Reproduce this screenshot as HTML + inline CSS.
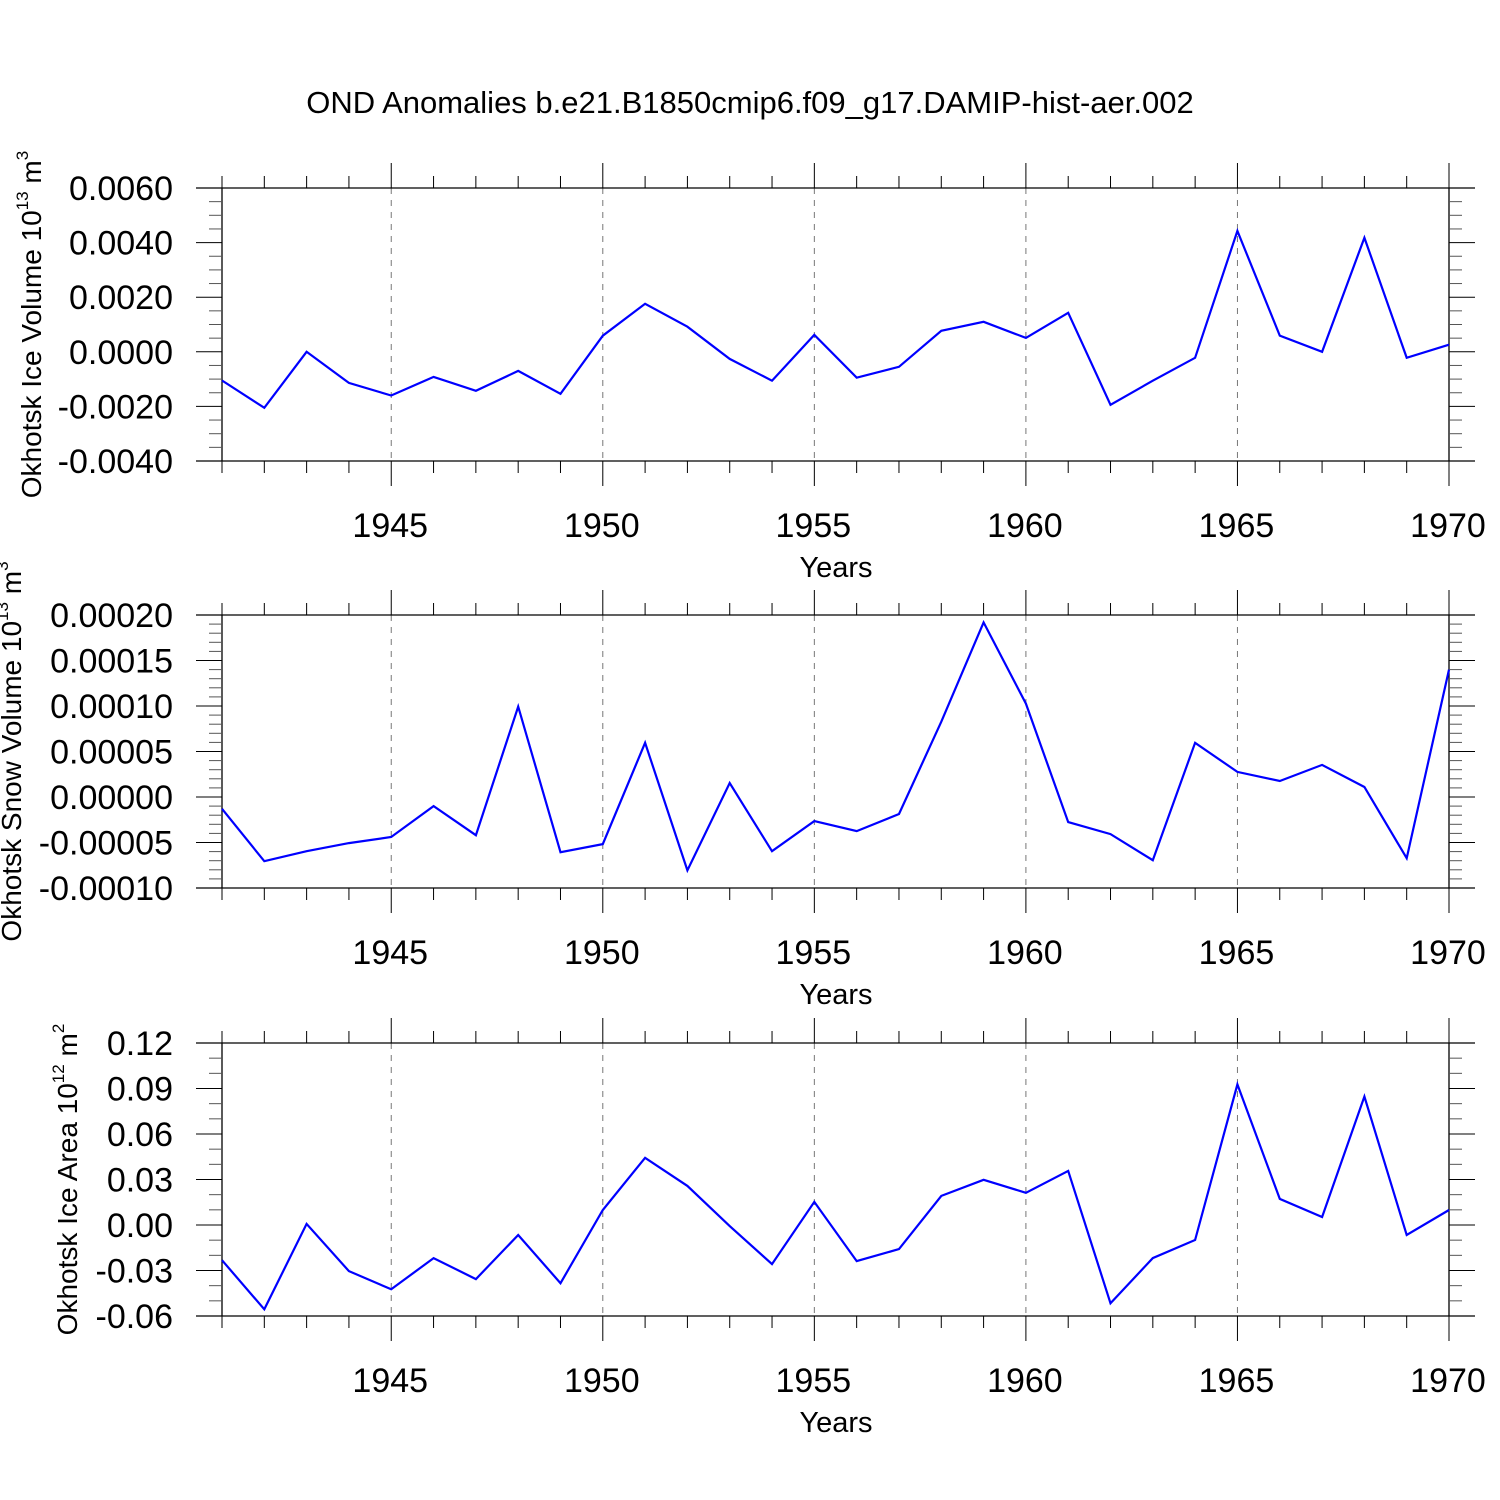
<!DOCTYPE html>
<html><head><meta charset="utf-8"><style>
body{margin:0;background:#fff}
svg{display:block;font-family:"Liberation Sans",Arial,sans-serif}
</style></head><body>
<svg id="c" width="1500" height="1500" viewBox="0 0 1500 1500">
<text x="750" y="113" font-size="31" text-anchor="middle">OND Anomalies b.e21.B1850cmip6.f09_g17.DAMIP-hist-aer.002</text>
</svg>
<script>
const years=[1941,1942,1943,1944,1945,1946,1947,1948,1949,1950,1951,1952,1953,1954,1955,1956,1957,1958,1959,1960,1961,1962,1963,1964,1965,1966,1967,1968,1969,1970];
const iceVolume=[-1.05,-2.05,0,-1.14,-1.6,-0.92,-1.43,-0.7,-1.54,0.59,1.76,0.92,-0.26,-1.06,0.62,-0.95,-0.55,0.77,1.1,0.51,1.43,-1.94,-1.06,-0.22,4.43,0.59,0,4.18,-0.22,0.26].map(v=>v*0.001);
const snowVolume=[-1.3,-7.06,-5.96,-5.07,-4.4,-1.0,-4.2,9.93,-6.07,-5.18,5.96,-8.05,1.54,-5.96,-2.65,-3.75,-1.87,8.27,19.19,10.26,-2.76,-4.08,-6.95,5.96,2.76,1.76,3.53,1.1,-6.73,14.0].map(v=>v*0.00001);
const iceArea=[-0.0232,-0.0556,0.0007,-0.0304,-0.0424,-0.0218,-0.0357,-0.0066,-0.0384,0.0099,0.0443,0.0258,-0.0007,-0.0258,0.0152,-0.0238,-0.0159,0.0192,0.0298,0.0212,0.0357,-0.0516,-0.0218,-0.0099,0.0927,0.0172,0.0053,0.0847,-0.0066,0.0099];
const xTickLabels=[1945,1950,1955,1960,1965,1970];
const ticks1=["0.0060","0.0040","0.0020","0.0000","-0.0020","-0.0040"];
const ticks2=["0.00020","0.00015","0.00010","0.00005","0.00000","-0.00005","-0.00010"];
const ticks3=["0.12","0.09","0.06","0.03","0.00","-0.03","-0.06"];
const NS="http://www.w3.org/2000/svg";
const svg=document.getElementById('c');
function el(t,a,p){const e=document.createElementNS(NS,t);for(const k in a)e.setAttribute(k,a[k]);(p||svg).appendChild(e);return e;}
const X0=222,X1=1449,Y0=1941,Y1=1970;
function xs(y){return X0+(y-Y0)*(X1-X0)/(Y1-Y0);}
function panel(cfg){
  const g=el('g',{});
  
  
  const top=cfg.top,bot=cfg.top+273;
  const ys=v=>top+(cfg.max-v)*(bot-top)/(cfg.max-cfg.min);
  for(const yr of [1945,1950,1955,1960,1965]){
    const l=el('line',{x1:xs(yr),x2:xs(yr),y1:top,y2:bot,stroke:'#777','stroke-width':1,'stroke-dasharray':'6,6'},g);
    
    
  }
  el('line',{x1:196,x2:1475,y1:top,y2:top,stroke:'#000','stroke-width':1.3},g);
  el('line',{x1:196,x2:1475,y1:bot,y2:bot,stroke:'#000','stroke-width':1.3},g);
  el('line',{x1:X0,x2:X0,y1:top,y2:bot,stroke:'#000','stroke-width':1.3},g);
  el('line',{x1:X1,x2:X1,y1:top,y2:bot,stroke:'#000','stroke-width':1.3},g);
  for(const yr of years){
    const major=yr%5===0, len=major?25:12, x=xs(yr);
    el('line',{x1:x,x2:x,y1:top,y2:top-len,stroke:'#000','stroke-width':1},g);
    el('line',{x1:x,x2:x,y1:bot,y2:bot+len,stroke:'#000','stroke-width':1},g);
  }
  for(const yr of xTickLabels){
    const t=el('text',{x:xs(yr)-1,y:bot+76,'font-size':34,'text-anchor':'middle'},g);
    t.textContent=yr;
    
    
  }
  const yt=el('text',{x:836,y:bot+116,'font-size':29,'text-anchor':'middle'},g);
  yt.textContent='Years';
  
  
  const n=cfg.labels.length-1, step=(cfg.max-cfg.min)/n;
  for(let i=0;i<=n;i++){
    const v=cfg.max-i*step,y=ys(v);
    el('line',{x1:196,x2:X0,y1:y,y2:y,stroke:'#000','stroke-width':1},g);
    el('line',{x1:X1,x2:1475,y1:y,y2:y,stroke:'#000','stroke-width':1},g);
    const t=el('text',{x:173,y:y+12,'font-size':34,'text-anchor':'end'},g);
    t.textContent=cfg.labels[i];
    
    
    if(i<n){for(let k=1;k<cfg.minor;k++){
      const ym=ys(v-k*step/cfg.minor);
      el('line',{x1:209,x2:X0,y1:ym,y2:ym,stroke:'#555','stroke-width':1},g);
      el('line',{x1:X1,x2:1462,y1:ym,y2:ym,stroke:'#555','stroke-width':1},g);
    }}
  }
  const mid=(top+bot)/2;
  const ya=el('text',{x:0,y:0,'font-size':28,'text-anchor':'middle',transform:`translate(${cfg.tx},${mid}) rotate(-90)`},g);
  ya.innerHTML=cfg.title+' 10<tspan dy="-13" font-size="17">'+cfg.exp+'</tspan><tspan dy="13"> m</tspan><tspan dy="-13" font-size="17">'+cfg.pw+'</tspan>';
  
  
  const pts=years.map((yr,i)=>xs(yr).toFixed(1)+','+ys(cfg.data[i]).toFixed(1)).join(' ');
  const pl=el('polyline',{points:pts,fill:'none',stroke:'#0000ff','stroke-width':2.2,'stroke-linejoin':'miter'},g);
  
  
}
panel({name:'ice-volume-panel',top:188,max:0.006,min:-0.004,labels:ticks1,minor:4,data:iceVolume,title:'Okhotsk Ice Volume',exp:'13',pw:'3',tx:41});
panel({name:'snow-volume-panel',top:615,max:0.0002,min:-0.0001,labels:ticks2,minor:5,data:snowVolume,title:'Okhotsk Snow Volume',exp:'13',pw:'3',tx:21});
panel({name:'ice-area-panel',top:1043,max:0.12,min:-0.06,labels:ticks3,minor:3,data:iceArea,title:'Okhotsk Ice Area',exp:'12',pw:'2',tx:77});
</script>
</body></html>
